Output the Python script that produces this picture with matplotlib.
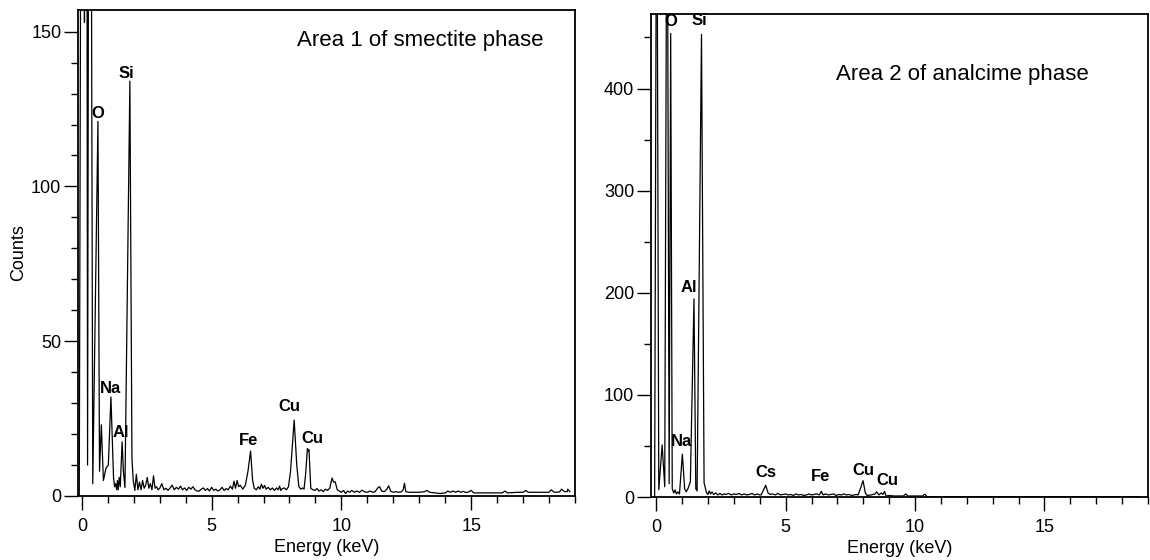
import numpy as np
import matplotlib
matplotlib.use("Agg")
import matplotlib.pyplot as plt
from matplotlib.ticker import MultipleLocator

plt.rcParams['font.family'] = ['Liberation Sans', 'DejaVu Sans']

# spectrum of area 1 (smectite), energy in keV and counts
left_energy = [-0.1, 0.02, 0.1, 0.17, 0.22, 0.3, 0.42, 0.62, 0.68, 0.75, 0.83, 0.93,
               1.02, 1.12, 1.22, 1.26, 1.3, 1.34, 1.37, 1.4, 1.44, 1.48, 1.55, 1.6,
               1.66, 1.85, 1.93, 1.98, 2.04, 2.1, 2.16, 2.22, 2.28, 2.34, 2.4, 2.46,
               2.52, 2.58, 2.64, 2.7, 2.76, 2.82, 2.88, 2.94, 3.0, 3.08, 3.16, 3.24,
               3.32, 3.4, 3.48, 3.56, 3.64, 3.72, 3.8, 3.88, 3.96, 4.04, 4.12, 4.2,
               4.28, 4.36, 4.44, 4.52, 4.6, 4.68, 4.76, 4.84, 4.92, 5.0, 5.08, 5.16,
               5.24, 5.32, 5.4, 5.48, 5.56, 5.64, 5.72, 5.8, 5.86, 5.92, 5.98, 6.04,
               6.1, 6.2, 6.3, 6.4, 6.5, 6.58, 6.64, 6.72, 6.8, 6.86, 6.92, 6.98,
               7.04, 7.1, 7.18, 7.26, 7.34, 7.42, 7.5, 7.56, 7.62, 7.66, 7.72, 7.8,
               7.88, 7.96, 8.04, 8.18, 8.28, 8.36, 8.44, 8.5, 8.56, 8.62, 8.69, 8.72,
               8.75, 8.82, 8.9, 8.98, 9.06, 9.14, 9.22, 9.3, 9.38, 9.46, 9.55, 9.64,
               9.7, 9.76, 9.84, 9.92, 10.0, 10.08, 10.16, 10.24, 10.32, 10.4, 10.5, 10.6,
               10.7, 10.8, 10.9, 11.0, 11.1, 11.2, 11.3, 11.4, 11.47, 11.55, 11.65, 11.75,
               11.82, 11.9, 12.0, 12.1, 12.2, 12.3, 12.38, 12.43, 12.48, 12.6, 12.8, 13.0,
               13.2, 13.3, 13.4, 13.6, 13.8, 14.0, 14.1, 14.2, 14.3, 14.4, 14.5, 14.6,
               14.7, 14.8, 14.9, 15.0, 15.1, 15.4, 15.8, 16.2, 16.3, 16.4, 16.8, 17.0,
               17.1, 17.2, 17.6, 18.0, 18.08, 18.2, 18.4, 18.48, 18.6, 18.7, 18.72, 18.8]
left_counts = [0, 400, 153, 400, 10, 400, 4, 121, 8, 23, 5, 9,
               10, 32, 6, 3, 4, 2, 5, 2, 6, 3, 17.5, 8,
               2.7, 134, 12, 5, 1.8, 7, 2, 4.5, 2, 5, 2.5, 3.5,
               6, 2.5, 4, 2, 6.5, 2.5, 3, 2, 2.5, 4, 2, 2.5,
               1.8, 2.6, 3.5, 2, 2.8, 2.2, 3.2, 2, 2.6, 1.8, 2.8, 2.2,
               3, 2, 1.6, 1.6, 2.2, 2.6, 1.8, 2.4, 1.6, 2.8, 1.8, 2.2,
               1.6, 2, 2.8, 1.8, 2.4, 2, 3.2, 2.2, 4.8, 2.5, 5, 3,
               3.5, 2.2, 3.5, 8, 14.5, 5, 2.5, 2, 3, 2.2, 3.8, 2.5,
               3.4, 2.2, 2.8, 2, 2.6, 1.8, 2.6, 2, 3.2, 1.8, 2.4, 2.6,
               2, 3, 8, 24.5, 10, 3, 2.2, 2.6, 2.2, 7, 15.3, 14.5,
               15, 2.5, 2, 1.8, 2.4, 1.6, 2, 1.4, 2.2, 1.8, 2.5, 5.8,
               4.5, 4.6, 2, 1.6, 1.2, 1.8, 0.8, 1.6, 1.2, 1.8, 1.2, 1.6,
               1.2, 1.9, 1.3, 1.2, 1.6, 1.2, 1.4, 2.6, 3, 1.6, 1.4, 2.2,
               3.3, 1.5, 1.2, 1.4, 1.2, 1.3, 2, 4.1, 1.4, 1.2, 1.2, 1.2,
               1.4, 1.8, 1.2, 1.0, 0.8, 1.0, 1.6, 1.2, 1.6, 1.2, 1.6, 1.2,
               1.5, 1.1, 1.3, 1.8, 1.0, 1.0, 1.0, 1.0, 1.6, 1.0, 1.2, 1.2,
               1.8, 1.2, 1.2, 1.2, 2.0, 1.2, 1.3, 2.2, 1.4, 1.4, 2.2, 1.4]

# spectrum of area 2 (analcime)
right_energy = [-0.06, 0.02, 0.1, 0.23, 0.33, 0.42, 0.5, 0.56, 0.62, 0.68, 0.73, 0.78,
                0.84, 0.9, 1.01, 1.1, 1.16, 1.24, 1.32, 1.46, 1.53, 1.58, 1.75, 1.85,
                1.94, 2.0, 2.05, 2.1, 2.16, 2.22, 2.3, 2.38, 2.46, 2.54, 2.62, 2.7,
                2.8, 2.9, 3.0, 3.1, 3.2, 3.3, 3.4, 3.5, 3.6, 3.7, 3.8, 3.9,
                4.0, 4.05, 4.13, 4.23, 4.32, 4.4, 4.5, 4.6, 4.7, 4.8, 4.9, 5.0,
                5.1, 5.2, 5.3, 5.4, 5.5, 5.6, 5.7, 5.8, 5.9, 6.0, 6.1, 6.2,
                6.3, 6.38, 6.45, 6.55, 6.65, 6.75, 6.85, 6.95, 7.05, 7.15, 7.25, 7.35,
                7.45, 7.55, 7.65, 7.72, 7.8, 7.9, 7.99, 8.08, 8.15, 8.3, 8.45, 8.52,
                8.6, 8.7, 8.76, 8.82, 8.88, 9.0, 9.2, 9.4, 9.55, 9.64, 9.72, 9.9,
                10.1, 10.3, 10.35, 10.4, 10.45, 10.6, 12.0, 14.0, 16.0, 18.0, 18.7]
right_counts = [0, 700, 7, 51, 10, 700, 13, 454, 8, 4, 7, 3,
                5, 3, 42, 8, 5, 9, 15, 194, 8, 6, 453, 14,
                4.5, 2.5, 6, 3, 5, 2.5, 4, 2, 3.5, 2, 3, 2.5,
                3.5, 2, 3, 2.5, 3.5, 2, 3, 2, 2.5, 3.5, 2, 3,
                2, 2, 6, 11.5, 4, 2.5, 3, 2, 3.5, 2, 2.5, 3,
                2, 2.5, 1.5, 3, 2, 2.5, 1.5, 2, 3, 2, 2.5, 3,
                2, 5.5, 2, 3, 2, 2.5, 3, 1.5, 2.5, 2, 3, 2,
                2.5, 1.5, 2, 2.5, 2, 9, 16, 4, 1.5, 2, 3, 5,
                2, 4, 2.5, 5.5, 1, 1.5, 1, 1, 1, 3, 1, 1,
                1, 1, 2.5, 2.5, 0.5, 0.3, 0.3, 0.3, 0.3, 0.3, 0.3]

# peak labels: element and peak energy (keV)
left_labels = ['O', 'Si', 'Na', 'Al', 'Fe', 'Cu', 'Cu']
left_label_e = [0.62, 1.85, 1.12, 1.55, 6.5, 8.18, 8.72]
right_labels = ['O', 'Si', 'Al', 'Na', 'Cs', 'Fe', 'Cu', 'Cu']
right_label_e = [0.56, 1.75, 1.46, 1.01, 4.23, 6.38, 7.99, 8.82]

# label offsets from the peak tip, in pixels (dx, dy)
left_offsets = [(0, 3), (-4, 3), (0, 4), (-1, 5), (-2, 6), (-5, 9), (4, 8)]
right_offsets = [(0, 7), (-2, 9), (-5, 7), (-1, 8), (0, 8), (-1, 10), (0, 6), (3, 6)]


def draw_panel(ax, energy, counts, labels, label_e, offsets, ymax, ymajor, yminor, title, xmin):
    ax.plot(energy, counts, color='black', lw=0.9)
    ax.set_xlim(xmin, 19)
    ax.set_ylim(0, ymax)
    ax.xaxis.set_major_locator(MultipleLocator(5))
    ax.xaxis.set_minor_locator(MultipleLocator(1))
    ax.yaxis.set_major_locator(MultipleLocator(ymajor))
    ax.yaxis.set_minor_locator(MultipleLocator(yminor))
    ax.tick_params(which='major', direction='out', length=10, width=1, labelsize=13)
    ax.tick_params(which='minor', direction='out', length=5, width=1)
    ax.tick_params(axis='x', which='major', pad=6)
    ax.tick_params(axis='y', which='major', pad=2)
    for s in ax.spines.values():
        s.set_linewidth(1.3)
    ax.set_xlabel('Energy (keV)', fontsize=13, labelpad=3)
    ax.text(title[1], title[2], title[0], transform=ax.transAxes, fontsize=16,
            ha='left', va='center')
    for name, e, (dx, dy) in zip(labels, label_e, offsets):
        c = np.interp(e, energy, counts)
        ax.annotate(name, (e, c), xytext=(dx * 0.72, dy * 0.72), textcoords='offset points',
                    ha='center', va='baseline', fontsize=12, fontweight='bold')


fig = plt.figure(figsize=(11.5, 5.6), dpi=100)
ax1 = fig.add_axes([0.0678, 0.1143, 0.4322, 0.8679])
ax2 = fig.add_axes([0.5661, 0.1125, 0.4322, 0.8625])

draw_panel(ax1, left_energy, left_counts, left_labels, left_label_e, left_offsets,
           157, 50, 10, ('Area 1 of smectite phase', 0.44, 0.938), -0.15)
draw_panel(ax2, right_energy, right_counts, right_labels, right_label_e, right_offsets,
           473, 100, 50, ('Area 2 of analcime phase', 0.372, 0.874), -0.2)
ax1.set_ylabel('Counts', fontsize=13, labelpad=3)

fig.savefig('out.png', dpi=100)
